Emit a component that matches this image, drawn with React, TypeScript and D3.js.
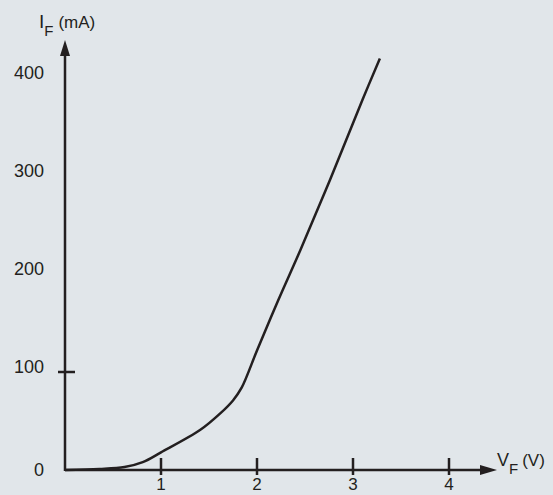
import React, { useRef, useEffect } from 'react'
import * as d3 from 'd3'

// forward voltage (V) vs forward current (mA)
const voltage = [0, 0.36, 0.62, 0.81, 1.0, 1.41, 1.62, 1.75, 1.84, 2.0, 2.22, 2.45, 2.76, 3.1, 3.28]
const current = [0, 1, 3, 8, 18, 41, 58, 71, 84, 122, 173, 224, 296, 378, 420]

const xTicks = [1, 2, 3, 4]
const yLabels = [0, 100, 200, 300, 400]
const yTickMarks = [100]

export default function App() {
  const canvas = useRef<SVGSVGElement>(null)

  const width = 553
  const height = 495

  useEffect(() => {
    const svg = d3.select(canvas.current)
    svg.selectAll('*').remove()

    const ink = '#231f20'
    const font = '"Liberation Sans", Arial, Helvetica, sans-serif'

    const x = d3.scaleLinear().domain([0, 4]).range([65, 449])
    const y = d3.scaleLinear().domain([0, 400]).range([470, 78])

    svg.append('rect').attr('width', width).attr('height', height).attr('fill', '#e1e6ea')

    // axes with arrows
    svg.append('line').attr('x1', x(0)).attr('x2', 484).attr('y1', y(0)).attr('y2', y(0))
      .attr('stroke', ink).attr('stroke-width', 2.5)
    svg.append('path').attr('d', `M497,${y(0)} L480,${y(0) - 5} L480,${y(0) + 5} Z`).attr('fill', ink)

    svg.append('line').attr('x1', x(0)).attr('x2', x(0)).attr('y1', y(0) + 1).attr('y2', 52)
      .attr('stroke', ink).attr('stroke-width', 2.5)
    svg.append('path').attr('d', `M${x(0)},40 L${x(0) - 5},56 L${x(0) + 5},56 Z`).attr('fill', ink)

    // x ticks
    svg.selectAll('.xt').data(xTicks).enter().append('line')
      .attr('x1', d => x(d)).attr('x2', d => x(d)).attr('y1', y(0) - 12).attr('y2', y(0) + 5)
      .attr('stroke', ink).attr('stroke-width', 2.5)
    svg.selectAll('.xl').data(xTicks).enter().append('text')
      .attr('x', d => x(d)).attr('y', 490).attr('text-anchor', 'middle')
      .attr('font-family', font).attr('font-size', 17).attr('fill', ink).text(d => d)

    // y ticks
    svg.selectAll('.yt').data(yTickMarks).enter().append('line')
      .attr('x1', x(0) - 7).attr('x2', x(0) + 10).attr('y1', d => y(d)).attr('y2', d => y(d))
      .attr('stroke', ink).attr('stroke-width', 2.5)
    svg.selectAll('.yl').data(yLabels).enter().append('text')
      .attr('x', 44).attr('y', d => y(d) - (d === 0 ? 0 : 5)).attr('dy', '0.35em').attr('text-anchor', 'end')
      .attr('font-family', font).attr('font-size', 18).attr('fill', ink).text(d => d)

    // axis titles
    const yt = svg.append('text').attr('x', 39).attr('y', 28).attr('font-family', font).attr('font-size', 19).attr('fill', ink)
    yt.append('tspan').text('I')
    yt.append('tspan').attr('dy', 8).attr('font-size', 15).text('F')
    yt.append('tspan').attr('dy', -8).attr('dx', 5).attr('font-size', 17).text('(mA)')

    const xt = svg.append('text').attr('x', 497).attr('y', 466).attr('font-family', font).attr('font-size', 18).attr('fill', ink)
    xt.append('tspan').text('V')
    xt.append('tspan').attr('dy', 8).attr('font-size', 15).text('F')
    xt.append('tspan').attr('dy', -8).attr('dx', 4).attr('font-size', 17).text('(V)')

    // curve
    const pts = voltage.map((v, i) => [v, current[i]] as [number, number])
    const line = d3.line<[number, number]>().x(d => x(d[0])).y(d => y(d[1])).curve(d3.curveCatmullRom.alpha(0.5))
    svg.append('path').datum(pts).attr('d', line).attr('fill', 'none')
      .attr('stroke', ink).attr('stroke-width', 2.5).attr('stroke-linejoin', 'round')
  })

  return (
    <svg ref={canvas} width={width} height={height} style={{ position: 'absolute', left: 0, top: 0 }} />
  )
}
